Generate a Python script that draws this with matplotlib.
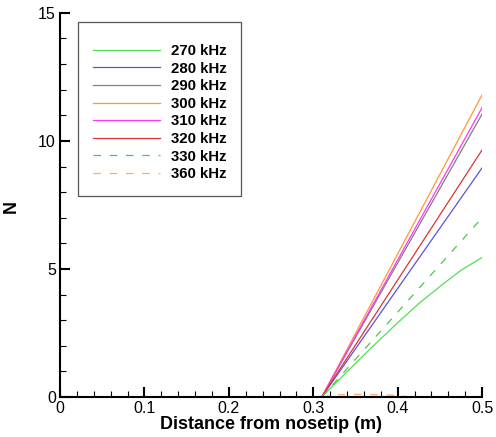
import matplotlib
matplotlib.use("Agg")
import matplotlib.pyplot as plt
from matplotlib.ticker import MultipleLocator, FuncFormatter

plt.rcParams['font.family'] = ['Liberation Sans', 'DejaVu Sans']

# N-factor growth along the body for each disturbance frequency
labels = ["270 kHz", "280 kHz", "290 kHz", "300 kHz", "310 kHz", "320 kHz", "330 kHz", "360 kHz"]

x_270 = [0.31, 0.352, 0.375, 0.399, 0.425, 0.454, 0.475, 0.50]
n_270 = [0.0, 1.38, 2.12, 2.87, 3.65, 4.42, 4.95, 5.45]
x_280 = [0.31, 0.50]
n_280 = [0.0, 8.95]
x_290 = [0.31, 0.50]
n_290 = [0.0, 11.05]
x_300 = [0.31, 0.50]
n_300 = [0.0, 11.8]
x_310 = [0.31, 0.50]
n_310 = [0.0, 11.3]
x_320 = [0.31, 0.50]
n_320 = [0.0, 9.65]
x_330 = [0.31, 0.50]
n_330 = [0.0, 7.0]
x_360 = [0.31, 0.33, 0.36, 0.39, 0.41]
n_360 = [0.0, 0.09, 0.10, 0.08, 0.03]

series = [
    (x_270, n_270, '#55dd55', '-'),
    (x_280, n_280, '#5555dd', '-'),
    (x_290, n_290, '#808080', '-'),
    (x_300, n_300, '#ff9933', '-'),
    (x_310, n_310, '#ff33ff', '-'),
    (x_320, n_320, '#dd3333', '-'),
    (x_330, n_330, '#44cc44', '--'),
    (x_360, n_360, '#ffaa66', '--'),
]

fig = plt.figure(figsize=(4.96, 4.37), dpi=100)
ax = fig.add_axes([0.121, 0.0915, 0.851, 0.879])

for (xs, ns, color, ls), lab in zip(series, labels):
    line, = ax.plot(xs, ns, color=color, linestyle=ls, linewidth=0.9, label=lab)
    if ls == '--':
        line.set_dashes((6, 7))

ax.set_xlim(0, 0.5)
ax.set_ylim(0, 15)
ax.xaxis.set_major_locator(MultipleLocator(0.1))
ax.xaxis.set_minor_locator(MultipleLocator(0.02))
ax.yaxis.set_major_locator(MultipleLocator(5))
ax.yaxis.set_minor_locator(MultipleLocator(1))
ax.xaxis.set_major_formatter(FuncFormatter(lambda v, p: f"{v:g}"))

for side in ('top', 'right'):
    ax.spines[side].set_visible(False)
for side in ('left', 'bottom'):
    ax.spines[side].set_linewidth(1.5)

ax.tick_params(which='major', direction='in', length=7, width=1.5, labelsize=11.5, pad=3)
ax.tick_params(which='minor', direction='in', length=4, width=0.8)

ax.set_xlabel("Distance from nosetip (m)", fontsize=13, fontweight='bold', labelpad=0)
ax.set_ylabel("N", fontsize=13, fontweight='bold')
ax.yaxis.set_label_coords(-0.095, 0.497)

leg = ax.legend(loc='upper left', bbox_to_anchor=(0.043, 0.977),
                prop={'weight': 'bold', 'size': 10.8}, handlelength=4.5,
                handletextpad=0.7, labelspacing=0.24, borderpad=0.98,
                borderaxespad=0, fancybox=False, framealpha=1,
                title=' ', title_fontsize=1.8)
leg.get_frame().set_edgecolor('#555555')
leg.get_frame().set_linewidth(0.9)

fig.savefig("out.png", dpi=100)
